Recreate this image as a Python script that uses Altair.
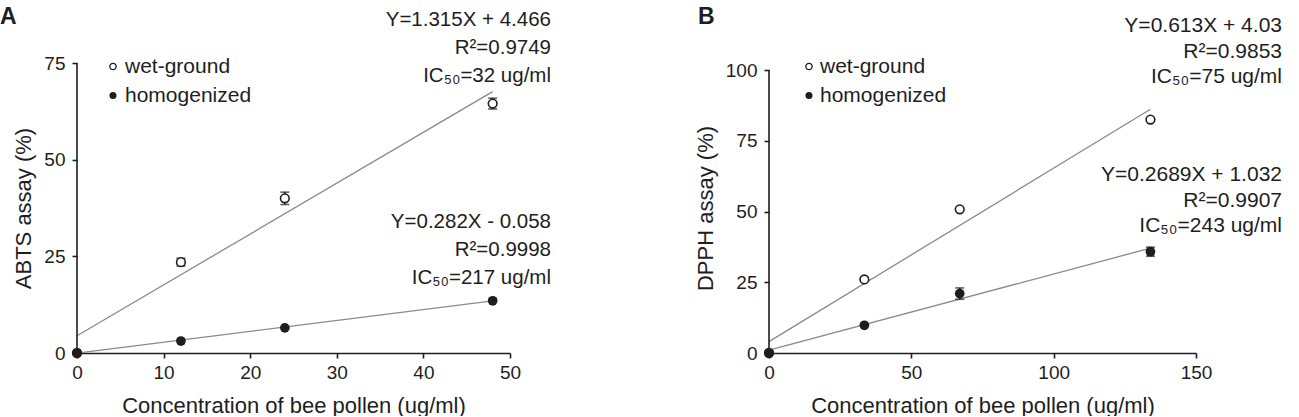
import altair as alt
import pandas as pd

FONT = "Liberation Sans"
INK = "#1e1e1e"
FIT_GREY = "#8a8a8a"

# ---------------- data ----------------
# Panel A: ABTS radical scavenging
abts_conc = [0, 12, 24, 48]
abts_wet = [0, 23.5, 40.0, 64.5]
abts_wet_err = [0, 1.0, 1.6, 1.4]
abts_hom = [0, 3.1, 6.5, 13.5]
abts_hom_err = [0, 0, 0, 0]
abts_fit_wet = (1.315, 4.466)
abts_fit_hom = (0.282, -0.058)
abts_note_wet = ["Y=1.315X + 4.466", "R²=0.9749", "IC₅₀=32 ug/ml"]
abts_note_hom = ["Y=0.282X - 0.058", "R²=0.9998", "IC₅₀=217 ug/ml"]
abts_x_ticks = [0, 10, 20, 30, 40, 50]
abts_y_ticks = [0, 25, 50, 75]

# Panel B: DPPH radical scavenging
dpph_conc = [0, 33.5, 67, 134]
dpph_wet = [0, 26.0, 50.8, 82.5]
dpph_wet_err = [0, 0, 0, 0]
dpph_hom = [0, 9.8, 21.0, 35.8]
dpph_hom_err = [0, 0, 2.0, 1.6]
dpph_fit_wet = (0.613, 4.03)
dpph_fit_hom = (0.2689, 1.032)
dpph_note_wet = ["Y=0.613X + 4.03", "R²=0.9853", "IC₅₀=75 ug/ml"]
dpph_note_hom = ["Y=0.2689X + 1.032", "R²=0.9907", "IC₅₀=243 ug/ml"]
dpph_x_ticks = [0, 50, 100, 150]
dpph_y_ticks = [0, 25, 50, 75, 100]

series_names = ["wet-ground", "homogenized"]
x_title = "Concentration of bee pollen (ug/ml)"


def one_line(text, x, y, size, align="right", baseline="middle", weight="normal"):
    return alt.Chart(pd.DataFrame({"t": [text]})).mark_text(
        font=FONT, fontSize=size, fontWeight=weight, color=INK,
        align=align, baseline=baseline,
    ).encode(text="t:N", x=alt.value(x), y=alt.value(y))


def panel(letter, conc, wet, wet_err, hom, hom_err, fit_wet, fit_hom,
          note_wet, note_hom, x_ticks, y_ticks, y_top, y_title,
          width, height, lay):
    rows = []
    for name, vals, errs in ((series_names[0], wet, wet_err),
                             (series_names[1], hom, hom_err)):
        for c, v, e in zip(conc, vals, errs):
            rows.append({"conc": c, "val": v, "err": e, "series": name,
                         "lo": v - e, "hi": v + e})
    df = pd.DataFrame(rows)

    # fitted lines drawn from the stated regression equations
    fit_rows = []
    for name, (m, b) in ((series_names[0], fit_wet), (series_names[1], fit_hom)):
        for c in (0, max(conc)):
            fit_rows.append({"conc": c, "val": m * c + b, "series": name})
    fits = pd.DataFrame(fit_rows)

    xs = alt.Scale(domain=[0, x_ticks[-1]], nice=False, zero=True)
    ys = alt.Scale(domain=[0, y_top], nice=False, zero=True)
    x_enc = alt.X("conc:Q", scale=xs,
                  axis=alt.Axis(values=x_ticks, title=x_title, format="d"))
    y_enc = alt.Y("val:Q", scale=ys,
                  axis=alt.Axis(values=y_ticks, title=y_title, format="d",
                                domain=False))
    x_plain = alt.X("conc:Q", scale=xs)
    y_plain = alt.Y("val:Q", scale=ys)

    base = alt.Chart(df)

    # y axis line stops at the last tick
    yline = alt.Chart(pd.DataFrame({"conc": [0], "a": [0], "b": [y_ticks[-1]]})).mark_rule(
        color=INK, strokeWidth=1.6
    ).encode(x=x_plain, y=alt.Y("a:Q", scale=ys), y2="b:Q")

    lines = alt.Chart(fits).mark_line(color=FIT_GREY, strokeWidth=1.3).encode(
        x=x_enc, y=y_enc, detail="series:N"
    )

    eb = base.transform_filter("datum.err > 0")
    bars = eb.mark_rule(color=INK, strokeWidth=1.6).encode(
        x=x_plain, y=alt.Y("lo:Q", scale=ys), y2="hi:Q")
    caps_lo = eb.mark_tick(color=INK, orient="horizontal", thickness=1.6, size=9).encode(
        x=x_plain, y=alt.Y("lo:Q", scale=ys))
    caps_hi = eb.mark_tick(color=INK, orient="horizontal", thickness=1.6, size=9).encode(
        x=x_plain, y=alt.Y("hi:Q", scale=ys))

    open_pts = base.transform_filter(
        alt.datum.series == series_names[0]).mark_point(
        shape="circle", filled=False, fill="white", fillOpacity=1,
        stroke=INK, strokeWidth=1.6, size=75, opacity=1,
    ).encode(x=x_plain, y=y_plain)
    solid_pts = base.transform_filter(
        alt.datum.series == series_names[1]).mark_point(
        shape="circle", filled=True, color=INK, size=95, opacity=1,
    ).encode(x=x_plain, y=y_plain)

    layers = [lines, yline, bars, caps_lo, caps_hi, open_pts, solid_pts]

    # legend inside the plot, top left
    lx, ly0, ly1, ltx = lay["legend"]
    leg_df = pd.DataFrame({"k": [0]})
    layers.append(alt.Chart(leg_df).mark_point(
        shape="circle", filled=False, fill="white", fillOpacity=1,
        stroke=INK, strokeWidth=1.3, size=40, opacity=1,
    ).encode(x=alt.value(lx), y=alt.value(ly0)))
    layers.append(alt.Chart(leg_df).mark_point(
        shape="circle", filled=True, color=INK, size=50, opacity=1,
    ).encode(x=alt.value(lx), y=alt.value(ly1)))
    layers.append(one_line(series_names[0], ltx, ly0, lay["legend_size"], align="left"))
    layers.append(one_line(series_names[1], ltx, ly1, lay["legend_size"], align="left"))

    # regression notes
    rx = lay["note_right"]
    for lines_txt, top in ((note_wet, lay["note_wet_top"]), (note_hom, lay["note_hom_top"])):
        for i, s in enumerate(lines_txt):
            layers.append(one_line(s, rx, top + i * lay["note_step"], lay["note_size"]))

    # panel letter
    layers.append(one_line(letter, lay["letter"][0], lay["letter"][1], 23,
                           align="left", baseline="top", weight="bold"))

    return alt.layer(*layers).properties(width=width, height=height)


lay_a = {
    "legend": (36, 3.5, 32.5, 48),
    "legend_size": 21,
    "note_right": 474,
    "note_wet_top": -43,
    "note_hom_top": 159,
    "note_step": 28,
    "note_size": 20.5,
    "letter": (-77, -57),
}
lay_b = {
    "legend": (40, 3.5, 32.5, 51),
    "legend_size": 21,
    "note_right": 513,
    "note_wet_top": -37,
    "note_hom_top": 112,
    "note_step": 25.5,
    "note_size": 21,
    "letter": (-71, -57),
}

panel_a = panel("A", abts_conc, abts_wet, abts_wet_err, abts_hom, abts_hom_err,
                abts_fit_wet, abts_fit_hom, abts_note_wet, abts_note_hom,
                abts_x_ticks, abts_y_ticks, 75, "ABTS assay (%)", 433, 290, lay_a)
panel_b = panel("B", dpph_conc, dpph_wet, dpph_wet_err, dpph_hom, dpph_hom_err,
                dpph_fit_wet, dpph_fit_hom, dpph_note_wet, dpph_note_hom,
                dpph_x_ticks, dpph_y_ticks, 102.5, "DPPH assay (%)", 427, 290, lay_b)

chart = alt.hconcat(panel_a, panel_b, spacing=259, bounds="flush").properties(
    padding={"left": 0, "top": 6, "right": 5, "bottom": 0},
    background="white",
).configure_view(stroke=None).configure_axis(
    grid=False,
    domainColor=INK, domainWidth=1.6,
    tickColor=INK, tickWidth=1.6, tickSize=5,
    labelFont=FONT, labelFontSize=19, labelColor=INK, labelFlush=False,
    titleFont=FONT, titleFontSize=22, titleFontWeight="normal", titleColor=INK,
).configure_axisX(
    labelPadding=5, titlePadding=13,
).configure_axisY(
    labelPadding=7, titlePadding=8,
)

chart.save("out.html", embed_options={"renderer": "svg", "actions": False})
